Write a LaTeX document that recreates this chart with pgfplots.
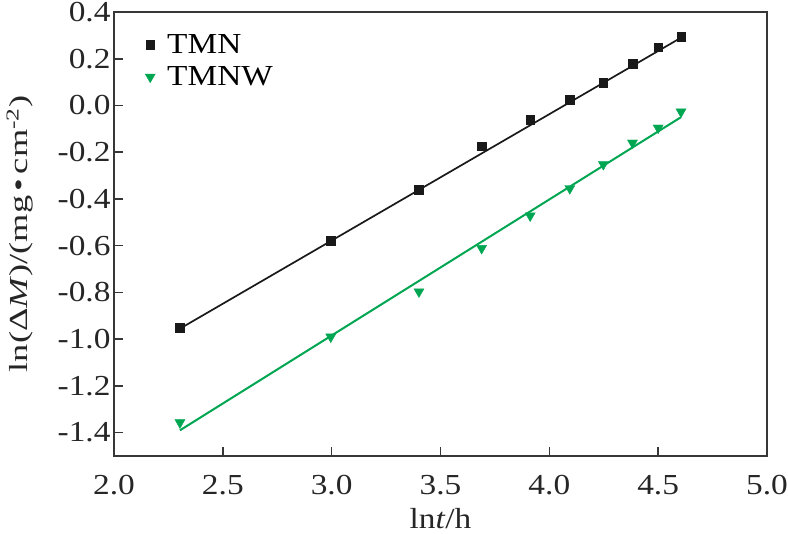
\documentclass[border=0pt]{standalone}
\usepackage{fontspec}
\setmainfont{Liberation Serif}[FakeStretch=1.15]
\newfontfamily\ylabfont{Liberation Serif}[FakeStretch=1.4]
\usepackage{pgfplots}
\pgfplotsset{compat=1.18}
\definecolor{tgreen}{RGB}{0,166,81}
\definecolor{axgray}{RGB}{55,55,55}
\begin{document}
\begin{tikzpicture}
\begin{axis}[
  scale only axis, width=653pt, height=444pt,
  xmin=2, xmax=5, ymin=-1.5, ymax=0.4,
  xtick={2,2.5,3,3.5,4,4.5,5},
  ytick={-1.4,-1.2,-1.0,-0.8,-0.6,-0.4,-0.2,0,0.2,0.4},
  tick align=inside, major tick length=9pt,
  xtick pos=left, ytick pos=left,
  /pgf/number format/assume math mode=true,
  xticklabel style={/pgf/number format/fixed,/pgf/number format/fixed zerofill,/pgf/number format/precision=1, yshift=-16pt},
  yticklabel style={/pgf/number format/fixed,/pgf/number format/fixed zerofill,/pgf/number format/precision=1},
  tick label style={font=\fontsize{29}{31}\selectfont, text=black!85},
  every axis x label/.style={at={(rel axis cs:0.5,0)}, anchor=north, yshift=-49pt,
    font=\fontsize{29}{31}\selectfont, text=black!85},
  every axis y label/.style={at={(rel axis cs:-0.144,0.5)}, anchor=center, rotate=90,
    font=\ylabfont\fontsize{26}{28}\selectfont, text=black!85},
  xlabel={ln\textit{t}/h},
  ylabel={ln(Δ\textit{M})/(mg\,•\,cm\textsuperscript{-2})},
  axis line style={line width=1.6pt, color=axgray},
  every tick/.style={line width=1.6pt, color=axgray},
  legend style={draw=none, fill=none, at={(rel axis cs:0,1)}, anchor=north west,
    xshift=28pt, yshift=-18pt, font=\fontsize{29}{31}\selectfont, row sep=8pt,
    /tikz/every odd column/.append style={column sep=10pt}},
  legend cell align=left,
]
\coordinate (bl) at (rel axis cs:0,0);
\coordinate (tr) at (rel axis cs:1,1);
\addplot[black!90, line width=1.7pt, forget plot] coordinates {(2.303,-0.955) (4.605,0.29)};
\addplot[tgreen, line width=2pt, forget plot] coordinates {(2.303,-1.39) (4.605,-0.05)};
\addplot[only marks, mark=square*, mark size=4.3pt, black!90] coordinates {
(2.303,-0.951) (2.996,-0.579) (3.401,-0.361) (3.689,-0.175) (3.912,-0.062)
(4.094,0.024) (4.248,0.098) (4.382,0.180) (4.500,0.250) (4.605,0.293)};
\addlegendentry{TMN}
\addplot[only marks, mark=triangle*, mark size=5.8pt, tgreen, mark options={rotate=180}] coordinates {
(2.303,-1.357) (2.996,-0.990) (3.401,-0.797) (3.689,-0.611) (3.912,-0.472)
(4.094,-0.355) (4.248,-0.252) (4.382,-0.160) (4.500,-0.096) (4.605,-0.027)};
\addlegendentry{TMNW}
\end{axis}
\pgfresetboundingbox
\path ([xshift=-114pt,yshift=-78pt]bl) rectangle ([xshift=21pt,yshift=12pt]tr);
\end{tikzpicture}
\end{document}
